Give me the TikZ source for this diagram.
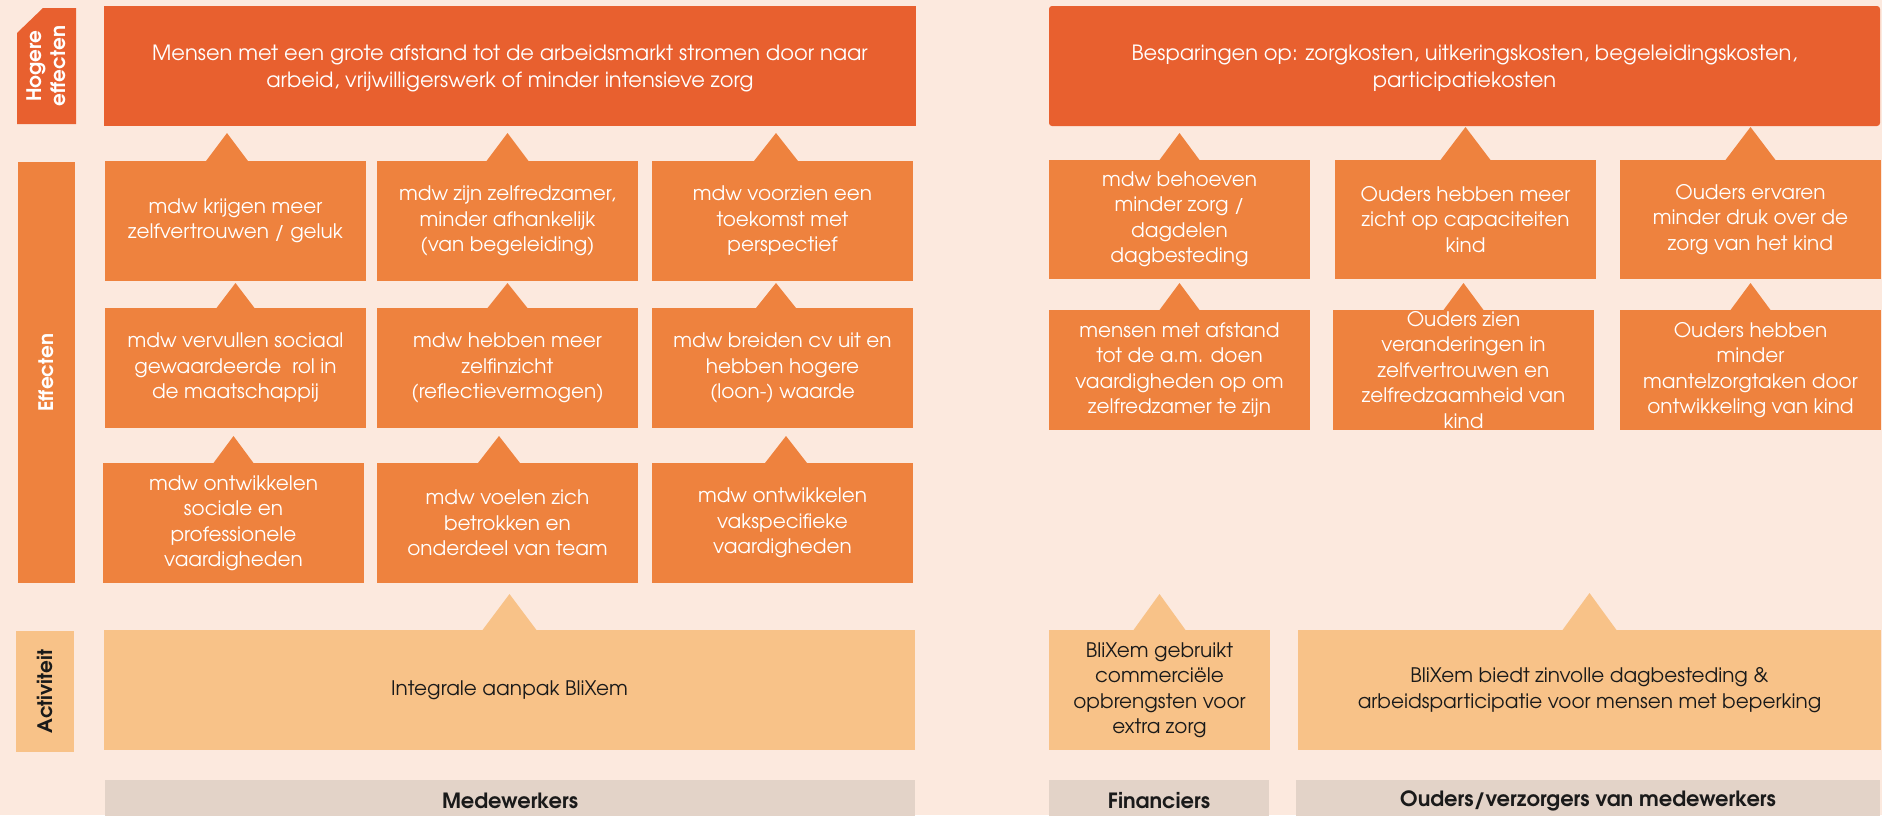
\documentclass[tikz,border=0pt]{standalone}
\usepackage{fontspec}
\setmainfont{texgyreadventor}[Extension=.otf, UprightFont=*-regular, BoldFont=*-bold, ItalicFont=*-italic, BoldItalicFont=*-bolditalic]
\usetikzlibrary{calc}

\definecolor{bgpeach}{HTML}{FCE9DE}
\definecolor{darkorange}{HTML}{E8602F}
\definecolor{midorange}{HTML}{EE823E}
\definecolor{lightorange}{HTML}{F8C288}
\definecolor{bandgray}{HTML}{E3D3C8}
\definecolor{inkblack}{HTML}{1A1A1A}

% box from corner (x1,y1) to corner (x2,y2), y measured downwards
\newcommand{\bx}[7]{\node[#2, minimum width={(#5)-(#3)}, minimum height={(#6)-(#4)}] (#1) at ({((#3)+(#5))/2},{((#4)+(#6))/2}) {#7};}
% pointer tab on top of a box: colour, box, x offset, half width, height
\newcommand{\ptab}[5]{\fill[#1] ([xshift={#3-#4}]#2.north) -- ([xshift={#3},yshift={#5}]#2.north) -- ([xshift={#3+#4}]#2.north) -- cycle;}

\begin{document}
\begin{tikzpicture}[x=1pt,y=-1pt,
  every node/.style={inner sep=0pt, outer sep=0pt, align=center},
  bodytext/.style={font=\fontsize{20}{25.5}\selectfont},
  topbox/.style={font=\fontsize{21}{27}\selectfont, fill=darkorange, text=white},
  effbox/.style={bodytext, fill=midorange, text=white},
  actbox/.style={bodytext, fill=lightorange, text=inkblack},
  bandbox/.style={fill=bandgray, text=inkblack, font=\fontsize{21}{24}\selectfont\bfseries},
  sidetext/.style={font=\fontsize{20}{24}\selectfont\bfseries, rotate=90}]

\useasboundingbox (0,0) rectangle (1882,815);
\clip (0,0) rectangle (1882,815);
\fill[bgpeach] (0,0) rectangle (1882,815);

% ---- side labels ----
\bx{hogbox}{}{17}{8}{76}{124}{}
\fill[darkorange] (hogbox.south west) -- ([yshift=-25pt]hogbox.north west) -- ([xshift=26pt]hogbox.north west) -- (hogbox.north east) -- (hogbox.south east) -- cycle;
\node[sidetext, text=white] (hoglabel) at (hogbox.center) {Hogere\\effecten};
\bx{efflabel}{fill=midorange}{18}{162}{75}{583}{}
\node[sidetext, text=white] (efftext) at (efflabel.center) {Effecten};
\bx{actlabel}{fill=lightorange}{16}{631}{74}{752}{}
\node[sidetext, text=inkblack] (acttext) at (actlabel.center) {Activiteit};

% ---- higher effects ----
\bx{t1}{topbox}{104}{6}{916}{126}{}
\node[topbox, fill=none] (t1text) at ([yshift=-2pt]t1.center) {Mensen met een grote afstand tot de arbeidsmarkt stromen door naar\\arbeid, vrijwilligerswerk of minder intensieve zorg};
\bx{t2}{topbox, rounded corners=3pt}{1049}{6}{1880}{126}{}
\node[topbox, fill=none] (t2text) at ([yshift=-2pt]t2.center) {Besparingen op: zorgkosten, uitkeringskosten, begeleidingskosten,\\participatiekosten};

% ---- effects, employees ----
\bx{a1}{effbox}{105}{161}{366}{281}{mdw krijgen meer\\zelfvertrouwen / geluk}
\bx{b1}{effbox}{377}{161}{638}{281}{mdw zijn zelfredzamer,\\minder afhankelijk\\(van begeleiding)}
\bx{c1}{effbox}{652}{161}{913}{281}{mdw voorzien een\\toekomst met\\perspectief}
\bx{a2}{effbox}{105}{308}{366}{428}{mdw vervullen sociaal\\gewaardeerde\ \ rol in\\de maatschappij}
\bx{b2}{effbox}{377}{308}{638}{428}{mdw hebben meer\\zelfinzicht\\(reflectievermogen)}
\bx{c2}{effbox}{652}{308}{913}{428}{mdw breiden cv uit en\\hebben hogere\\(loon-) waarde}
\bx{a3}{effbox}{103}{463}{364}{583}{mdw ontwikkelen\\sociale en\\professionele\\vaardigheden}
\bx{b3}{effbox}{377}{463}{638}{583}{mdw voelen zich\\betrokken en\\onderdeel van team}
\bx{c3}{effbox}{652}{463}{913}{583}{mdw ontwikkelen\\vakspecifieke\\vaardigheden}

\ptab{midorange}{a1}{-8.5}{21}{28}
\ptab{midorange}{b1}{0}{21}{28}
\ptab{midorange}{c1}{-6.5}{22}{28}
\ptab{midorange}{a2}{0}{19}{25}
\ptab{midorange}{b2}{0}{20}{25}
\ptab{midorange}{c2}{-6.5}{20}{25}
\ptab{midorange}{a3}{0}{20}{27}
\ptab{midorange}{b3}{-8.5}{21}{27}
\ptab{midorange}{c3}{3.5}{21}{27}

% ---- effects, financiers and parents ----
\bx{d1}{effbox}{1049}{160}{1310}{279}{mdw behoeven\\minder zorg /\\dagdelen\\dagbesteding}
\bx{e1}{effbox}{1335}{160}{1596}{279}{Ouders hebben meer\\zicht op capaciteiten\\kind}
\bx{f1}{effbox}{1620}{160}{1881}{279}{Ouders ervaren\\minder druk over de\\zorg van het kind}
\bx{d2}{effbox}{1049}{310}{1310}{430}{mensen met afstand\\tot de a.m. doen\\vaardigheden op om\\zelfredzamer te zijn}
\bx{e2}{effbox}{1333}{310}{1594}{430}{Ouders zien\\veranderingen in\\zelfvertrouwen en\\zelfredzaamheid van\\kind}
\bx{f2}{effbox}{1620}{310}{1881}{430}{Ouders hebben\\minder\\mantelzorgtaken door\\ontwikkeling van kind}

\ptab{midorange}{d1}{0}{20}{27}
\ptab{midorange}{e1}{0}{25}{33}
\ptab{midorange}{f1}{0}{25}{33}
\ptab{midorange}{d2}{0}{20}{27}
\ptab{midorange}{e2}{0}{20}{27}
\ptab{midorange}{f2}{0}{20}{27}

% ---- activities ----
\bx{act}{actbox}{104}{630}{915}{750}{Integrale aanpak BliXem}
\bx{fin}{actbox}{1049}{630}{1270}{750}{BliXem gebruikt\\commerciële\\opbrengsten voor\\extra zorg}
\bx{ouact}{actbox}{1298}{630}{1881}{750}{BliXem biedt zinvolle dagbesteding \&\\arbeidsparticipatie voor mensen met beperking}

\ptab{lightorange}{act}{0}{27}{36}
\ptab{lightorange}{fin}{0}{26}{36}
\ptab{lightorange}{ouact}{0}{27}{37}

% ---- stakeholder bands ----
\bx{g1}{bandbox}{105}{780}{915}{822}{Medewerkers}
\bx{g2}{bandbox}{1049}{780}{1269}{822}{Financiers}
\bx{g3}{bandbox}{1296}{780}{1880}{822}{Ouders/verzorgers van medewerkers}

\end{tikzpicture}
\end{document}
